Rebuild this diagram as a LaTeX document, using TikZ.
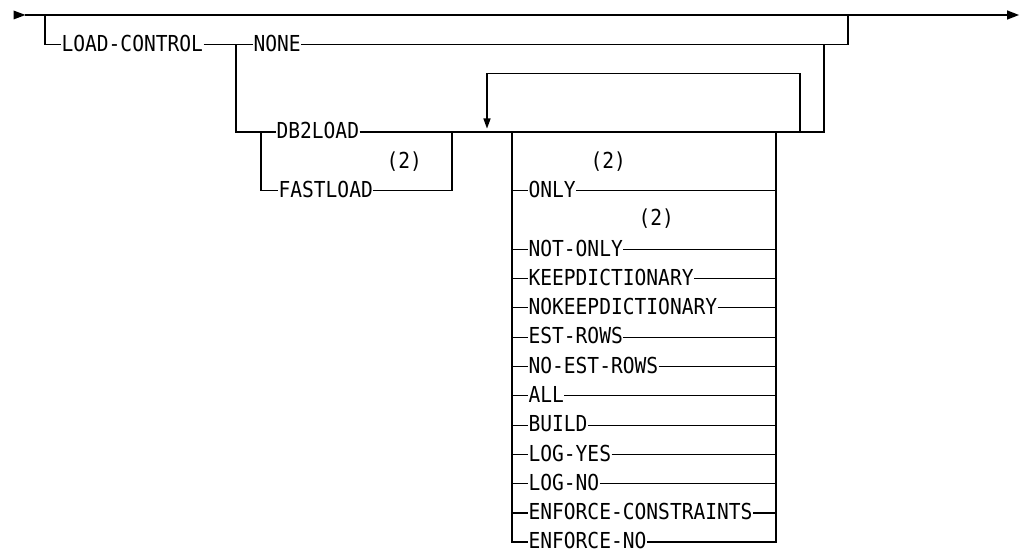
\documentclass[tikz,border=0pt]{standalone}
\usepackage{fontspec}
\newfontfamily\rrfont[FakeStretch=0.89]{DejaVu Sans Mono}
\begin{document}
\begin{tikzpicture}[x=1bp,y=-1bp,line width=1.1bp,
  kw/.style={font=\rrfont\fontsize{22bp}{24bp}\selectfont, inner sep=0pt,
    text height=13.5bp, text depth=0pt, anchor=west}]
\useasboundingbox (0,0) rectangle (1021,551);
% main line
\coordinate (start) at (25,15);
\coordinate (finish) at (1007.5,15);
\fill (13.5,10.5) -- (25.5,15) -- (13.5,19.5) -- cycle;
\draw (start) -- (finish);
\fill (1007,10.3) -- (1019,15) -- (1007,19.7) -- cycle;
% LOAD-CONTROL branch
\node[kw] (lc) at (61,44.5) {LOAD-CONTROL};
\node[kw] (none) at (253,44.5) {NONE};
\coordinate (b1) at (45,15);
\coordinate (j1) at (848,15);
\draw (b1) |- (lc.west);
\draw (lc.east) -- (none.west);
\draw (none.east) -| (j1);
% DB2LOAD / FASTLOAD
\node[kw] (db) at (276,132) {DB2LOAD};
\node[kw] (fl) at (278,190.6) {FASTLOAD};
\node[kw] (fn1) at (386,162) {(2)};
\coordinate (b2) at (236,44.5);
\coordinate (b3) at (261,132);
\coordinate (j2) at (452,132);
\coordinate (j3) at (824,44.5);
\draw (b2) |- (db.west);
\draw (b3) |- (fl.west);
\draw (fl.east) -| (j2);
\draw (db.east) -| (j3);
% repeat loop
\coordinate (l1) at (800,132);
\coordinate (l2) at (487,119);
\draw (l1) |- (487,73.8) -- (l2);
\fill (483.3,118.5) -- (490.7,118.5) -- (487,128.5) -- cycle;
% option group
\coordinate (gl) at (512,132);
\coordinate (gr) at (776,132);
\node[kw] (fn2) at (590,162) {(2)};
\node[kw] (fn3) at (638,219) {(2)};
\foreach \t/\n/\y in {ONLY/only/190.6, NOT-ONLY/notonly/249.3,
  KEEPDICTIONARY/keep/278.6, NOKEEPDICTIONARY/nokeep/307.9,
  EST-ROWS/est/337.2, NO-EST-ROWS/noest/366.5, ALL/all/395.8,
  BUILD/build/425.1, LOG-YES/logyes/454.4, LOG-NO/logno/483.7,
  ENFORCE-CONSTRAINTS/enfc/513}{
  \node[kw] (\n) at (528,\y) {\t};
  \draw (512,\y) -- (\n.west);
  \draw (\n.east) -- (776,\y);
}
\node[kw] (enfno) at (528,542) {ENFORCE-NO};
\draw (gl) |- (enfno.west);
\draw (enfno.east) -| (gr);
\end{tikzpicture}
\end{document}
